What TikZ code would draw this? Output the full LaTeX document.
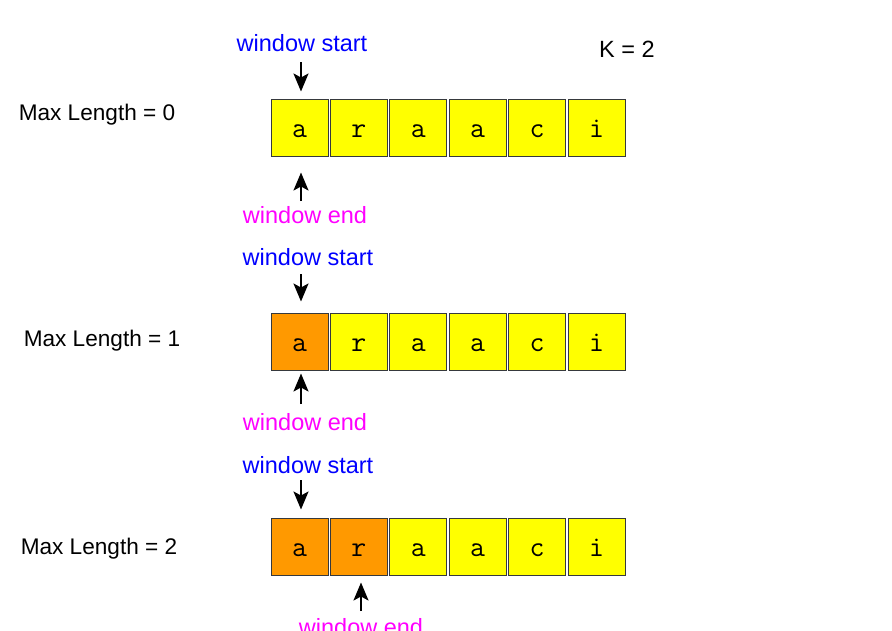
\documentclass[tikz,border=0pt]{standalone}
\usepackage{fontspec}
\setmainfont{Liberation Sans}
\usepackage{tikz}
\usetikzlibrary{arrows.meta}
\definecolor{cellyel}{HTML}{FFFF00}
\definecolor{cellorg}{HTML}{FF9900}
\definecolor{cellline}{HTML}{36393D}
\definecolor{startcol}{HTML}{0000FF}
\definecolor{endcol}{HTML}{FF00FF}
\tikzset{
  cell/.style={draw=cellline, line width=1pt, fill=cellyel, minimum size=57pt,
    inner sep=0pt, text height=18pt, text depth=0pt,
    font=\ttfamily\fontsize{29}{29}\selectfont},
  hit/.style={cell, fill=cellorg},
  lbl/.style={inner sep=0pt, font=\fontsize{23.5}{27}\selectfont},
  side/.style={inner sep=0pt, font=\fontsize{22.6}{27}\selectfont},
  ptr/.style={-{Stealth[width=15pt,length=18pt,inset=4pt]}, line width=2pt}
}

\begin{document}
\begin{tikzpicture}[x=1pt,y=-1pt]
\useasboundingbox (0,0) rectangle (892,630);
\node[lbl] (k) at (627,49) {K = 2};
% first row
\node[side] (ml1) at (97,115) {Max Length = 0};
\node[cell] (c11) at (299.5,128) {a};
\node[cell] (c12) at (358.9,128) {r};
\node[cell] (c13) at (418.3,128) {a};
\node[cell] (c14) at (477.7,128) {a};
\node[cell] (c15) at (537.1,128) {c};
\node[cell] (c16) at (596.5,128) {i};
\node[lbl, text=startcol] (ws1) at (302,43) {window start};
\node[lbl, text=endcol] (we1) at (305,215) {window end};
\coordinate (s1) at (301,62);
\coordinate (u1) at (301,201);
\draw[ptr, shorten >=7.5pt] (s1) -- (s1 |- c11.north);
\draw[ptr, shorten >=15.5pt] (u1) -- (u1 |- c11.south);
% second row
\node[side] (ml2) at (102,341) {Max Length = 1};
\node[hit] (c21) at (299.5,342) {a};
\node[cell] (c22) at (358.9,342) {r};
\node[cell] (c23) at (418.3,342) {a};
\node[cell] (c24) at (477.7,342) {a};
\node[cell] (c25) at (537.1,342) {c};
\node[cell] (c26) at (596.5,342) {i};
\node[lbl, text=startcol] (ws2) at (308,257) {window start};
\node[lbl, text=endcol] (we2) at (305,422) {window end};
\coordinate (s2) at (301,274);
\coordinate (u2) at (301,404);
\draw[ptr, shorten >=11.5pt] (s2) -- (s2 |- c21.north);
\draw[ptr, shorten >=2.5pt] (u2) -- (u2 |- c21.south);
% third row
\node[side] (ml3) at (99,549) {Max Length = 2};
\node[hit] (c31) at (299.5,547) {a};
\node[hit] (c32) at (358.9,547) {r};
\node[cell] (c33) at (418.3,547) {a};
\node[cell] (c34) at (477.7,547) {a};
\node[cell] (c35) at (537.1,547) {c};
\node[cell] (c36) at (596.5,547) {i};
\node[lbl, text=startcol] (ws3) at (308,465) {window start};
\node[lbl, text=endcol] (we3) at (361,627) {window end};
\coordinate (s3) at (301,480);
\coordinate (u3) at (361,611);
\draw[ptr, shorten >=8.5pt] (s3) -- (s3 |- c31.north);
\draw[ptr, shorten >=6.5pt] (u3) -- (u3 |- c32.south);
\end{tikzpicture}
\end{document}
